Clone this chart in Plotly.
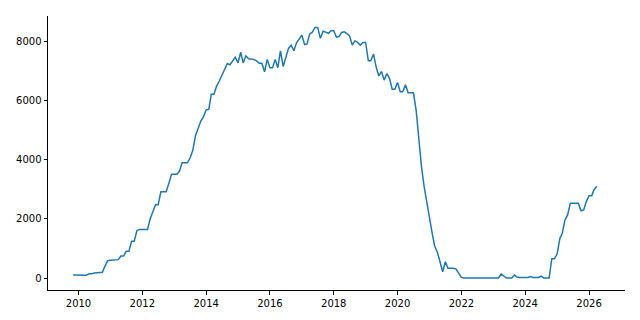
import pandas as pd
import plotly.graph_objects as go

start_month = "2009-11-01"
values = [
    # 2009 Nov-Dec
    100, 100,
    # 2010
    100, 100, 100, 90, 140, 140, 170, 180, 180, 190, 400, 585,
    # 2011
    600, 610, 620, 620, 740, 740, 900, 900, 1240, 1240, 1600, 1640,
    # 2012
    1640, 1640, 1640, 2000, 2230, 2470, 2470, 2910, 2910, 2910, 3200, 3500,
    # 2013
    3500, 3500, 3600, 3890, 3890, 3890, 4050, 4300, 4800, 5050, 5300, 5440,
    # 2014
    5670, 5700, 6200, 6200, 6480, 6650, 6850, 7050, 7240, 7200, 7330, 7450,
    # 2015
    7260, 7620, 7260, 7500, 7400, 7380, 7380, 7330, 7250, 7250, 6960, 7380,
    # 2016
    7100, 7100, 7380, 7100, 7670, 7140, 7450, 7750, 7860, 7670, 7940, 8050,
    # 2017
    8200, 7880, 7900, 8240, 8300, 8460, 8460, 8090, 8330, 8300, 8260, 8350,
    # 2018
    8350, 8130, 8150, 8290, 8310, 8250, 8170, 7860, 8010, 7950, 7860, 7950,
    # 2019
    7950, 7330, 7330, 7560, 7130, 6820, 6970, 6680, 6900, 6740, 6370, 6370,
    # 2020
    6600, 6290, 6290, 6520, 6250, 6250, 6250, 5670, 4660, 3760, 3080, 2520,
    # 2021
    2010, 1510, 1080, 870, 550, 210, 550, 330, 330, 330, 300, 180,
    # 2022
    20, 0, 0, 0, 0, 0, 0, 0, 0, 0, 0, 0,
    # 2023
    0, 0, 0, 135, 80, 0, 0, 0, 100, 30, 20, 20,
    # 2024
    20, 20, 50, 20, 20, 20, 60, 0, 0, 0, 650, 650,
    # 2025
    810, 1330, 1510, 1960, 2130, 2520, 2520, 2520, 2520, 2270, 2300, 2580,
    # 2026 Jan-Apr
    2780, 2780, 2990, 3100,
]
dates = pd.date_range(start_month, periods=len(values), freq="MS")

y_ticks = [0, 2000, 4000, 6000, 8000]
x_ticks = ["2010", "2012", "2014", "2016", "2018", "2020", "2022", "2024", "2026"]

fig = go.Figure()
fig.add_trace(go.Scatter(
    x=dates, y=values, mode="lines",
    line=dict(color="#1f77b4", width=1.5),
    showlegend=False,
))

axis_common = dict(
    showline=True, linecolor="black", linewidth=1,
    ticks="outside", ticklen=3.5, tickwidth=1, tickcolor="black",
    showgrid=False, zeroline=False, mirror=False,
    tickfont=dict(family="DejaVu Sans", size=10, color="black"),
)

fig.update_layout(
    width=640, height=320,
    margin=dict(l=48, r=15, t=16, b=30),
    paper_bgcolor="white", plot_bgcolor="white",
    xaxis=dict(
        range=["2009-01-17", "2027-02-17"],
        tickvals=[f"{y}-01-01" for y in x_ticks],
        ticktext=x_ticks,
        **axis_common,
    ),
    yaxis=dict(
        range=[-405, 8844],
        tickvals=y_ticks,
        ticktext=[str(v) for v in y_ticks],
        **axis_common,
    ),
)

fig.write_html("out.html")
